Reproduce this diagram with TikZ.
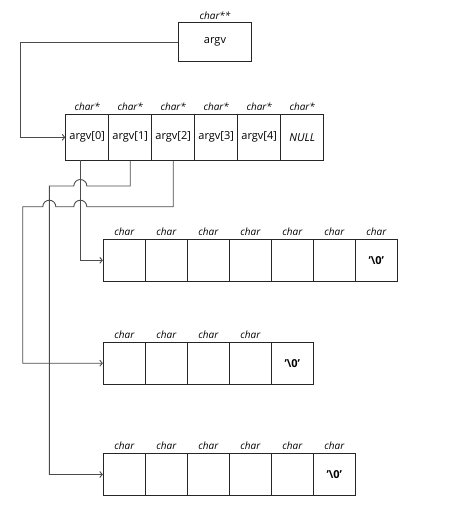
\documentclass[tikz,border=0pt]{standalone}
\usepackage{fontspec}
\setmainfont{Open Sans}
\usetikzlibrary{arrows.meta, calc, positioning}

\begin{document}
\begin{tikzpicture}[x=1pt, y=-1pt, label distance=2pt,
        cell/.style={draw=black!85, line width=0.9pt, minimum width=43pt, minimum height=46pt, inner sep=0pt, font=\fontsize{11}{13}\selectfont},
        chr/.style={cell, minimum width=42pt, minimum height=42pt},
        typ/.style={font=\itshape\fontsize{10}{12}\selectfont, inner sep=1pt},
        ptr/.style={draw=black!70, line width=0.9pt, -{Straight Barb[length=2.5pt,width=6pt]}}]
        \useasboundingbox (0,0) rectangle (474,527);

        % The argv variable itself
        \node[cell, minimum width=73pt, minimum height=39pt, label={[typ]above:char**}] (argv) at (215,42.3) {argv};

        % Array of pointers
        \node[cell, label={[typ]above:char*}] (a0) at (87.2,137.3) {argv[0]};
        \node[cell, label={[typ]above:char*}] (a1) at (130.2,137.3) {argv[1]};
        \node[cell, label={[typ]above:char*}] (a2) at (173.2,137.3) {argv[2]};
        \node[cell, label={[typ]above:char*}] (a3) at (216.2,137.3) {argv[3]};
        \node[cell, label={[typ]above:char*}] (a4) at (259.2,137.3) {argv[4]};
        \node[cell, label={[typ]above:char*}] (a5) at (302.2,137.3) {\textit{NULL}};

        % First string (7 chars)
        \node[chr, label={[typ]above:char}] (r1c1) at (124.3,260.3) {};
        \node[chr, label={[typ]above:char}] (r1c2) at (166.3,260.3) {};
        \node[chr, label={[typ]above:char}] (r1c3) at (208.3,260.3) {};
        \node[chr, label={[typ]above:char}] (r1c4) at (250.3,260.3) {};
        \node[chr, label={[typ]above:char}] (r1c5) at (292.3,260.3) {};
        \node[chr, label={[typ]above:char}] (r1c6) at (334.3,260.3) {};
        \node[chr, label={[typ]above:char}] (r1c7) at (376.3,260.3) {\textbf{'\textbackslash0'}};

        % Second string (5 chars)
        \node[chr, label={[typ]above:char}] (r2c1) at (124.3,363.2) {};
        \node[chr, label={[typ]above:char}] (r2c2) at (166.3,363.2) {};
        \node[chr, label={[typ]above:char}] (r2c3) at (208.3,363.2) {};
        \node[chr, label={[typ]above:char}] (r2c4) at (250.3,363.2) {};
        \node[chr] (r2c5) at (292.3,363.2) {\textbf{'\textbackslash0'}};

        % Third string (6 chars)
        \node[chr, label={[typ]above:char}] (r3c1) at (124.3,474.5) {};
        \node[chr, label={[typ]above:char}] (r3c2) at (166.3,474.5) {};
        \node[chr, label={[typ]above:char}] (r3c3) at (208.3,474.5) {};
        \node[chr, label={[typ]above:char}] (r3c4) at (250.3,474.5) {};
        \node[chr, label={[typ]above:char}] (r3c5) at (292.3,474.5) {};
        \node[chr, label={[typ]above:char}] (r3c6) at (334.3,474.5) {\textbf{'\textbackslash0'}};

        % Bends and line hops
        \coordinate (bend) at (20.7,90);
        \coordinate (s0) at (80.3,160);
        \coordinate (h1) at (80.3,186);
        \coordinate (h2) at (80.3,206.7);
        \coordinate (h3) at (49.3,206.7);
        \coordinate (t1) at (49.3,186);
        \coordinate (t2) at (22.7,206.7);

        % Pointers
        \draw[ptr] (argv.west) -| (bend) |- (a0.west);
        \draw[ptr] (s0) |- (r1c1.west);
        \draw[ptr] (a1.south) |- ([xshift=6.5]h1) arc[start angle=0, end angle=-180, radius=6.5] -- (t1) |- (r3c1.west);
        \draw[ptr] (a2.south) |- ([xshift=6.5]h2) arc[start angle=0, end angle=-180, radius=6.5]
                -- ([xshift=6.5]h3) arc[start angle=0, end angle=-180, radius=6.5] -- (t2) |- (r2c1.west);
\end{tikzpicture}
\end{document}
